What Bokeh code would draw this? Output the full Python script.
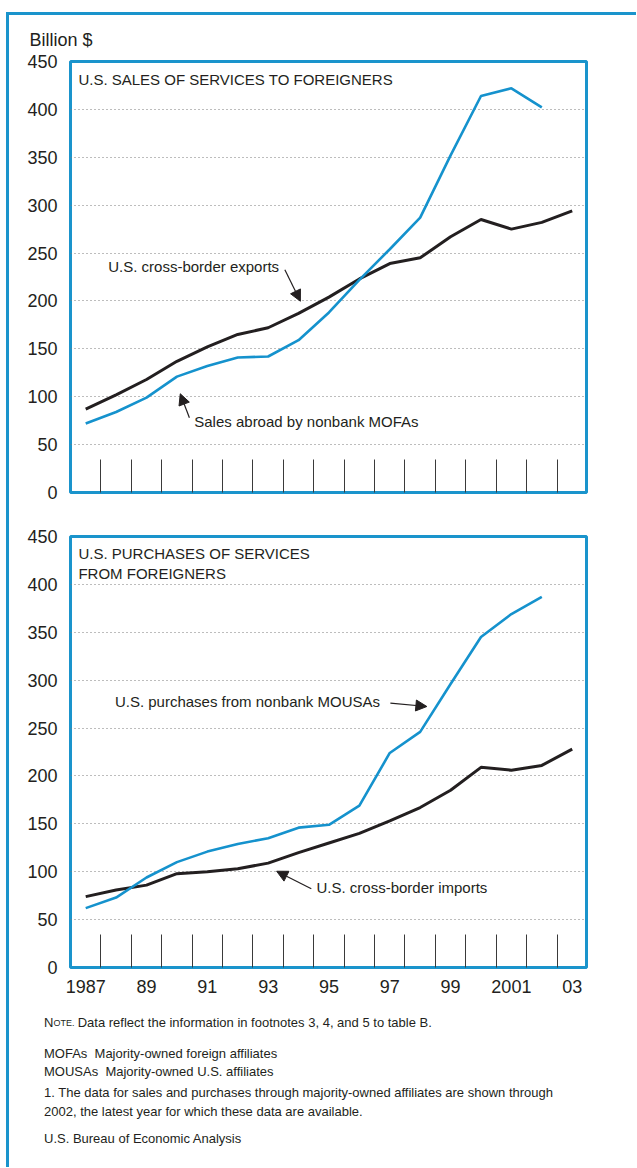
from bokeh.plotting import figure
from bokeh.models import Range1d, FixedTicker, Label, Arrow, NormalHead, ColumnDataSource
from bokeh.core.properties import value
from bokeh.layouts import column
from bokeh.embed import file_html
from bokeh.resources import INLINE

# ---------------- data (billions of dollars) ----------------
YEARS = list(range(1987, 2004))
MOFA_YEARS = list(range(1987, 2003))
EXPORTS = [87, 102, 118, 137, 152, 165, 172, 187, 204, 223, 239, 245, 267, 285, 275, 282, 294]
MOFA_SALES = [72, 84, 99, 121, 132, 141, 142, 159, 188, 222, 254, 287, 352, 414, 422, 402]
IMPORTS = [74, 81, 86, 98, 100, 103, 109, 120, 130, 140, 153, 167, 185, 209, 206, 211, 228]
MOUSA_PURCHASES = [62, 73, 94, 110, 121, 129, 135, 146, 149, 169, 224, 246, 296, 345, 369, 387]

Y_TICKS = [0, 50, 100, 150, 200, 250, 300, 350, 400, 450]
GRID_TICKS = [50, 100, 150, 200, 250, 300, 350, 400]
X_LABEL_YEARS = [1987, 1989, 1991, 1993, 1995, 1997, 1999, 2001, 2003]
X_LABELS = ["1987", "89", "91", "93", "95", "97", "99", "2001", "03"]
TICK_MARKS = [y + 0.5 for y in YEARS[:-1]]

TOP_TITLE = "U.S. SALES OF SERVICES TO FOREIGNERS"
BOTTOM_TITLE = ["U.S. PURCHASES OF SERVICES", "FROM FOREIGNERS"]
NOTE_TEXT = "Data reflect the information in footnotes 3, 4, and 5 to table B."
FOOTNOTES = [
    "MOFAs\u00a0 Majority-owned foreign affiliates",
    "MOUSAs\u00a0 Majority-owned U.S. affiliates",
    "1. The data for sales and purchases through majority-owned affiliates are shown through",
    "2002, the latest year for which these data are available.",
    "U.S. Bureau of Economic Analysis",
]

BLUE = "#1592cd"
FRAME_BLUE = "#1a94cc"
INK = "#231f20"
FONT = "Liberation Sans"
W = 627


def make_panel(height, top, bottom, major_x):
    p = figure(width=W, height=height,
               x_range=Range1d(1986.5, 2003.47), y_range=Range1d(0, 450),
               output_backend="svg", toolbar_location=None,
               min_border_left=61, min_border_right=W - 61 - 516,
               min_border_top=top, min_border_bottom=bottom)
    p.background_fill_color = "white"
    p.border_fill_color = "white"
    p.outline_line_color = FRAME_BLUE
    p.outline_line_width = 3

    ya = p.yaxis[0]
    ya.ticker = FixedTicker(ticks=Y_TICKS)
    ya.major_tick_in = 0
    ya.major_tick_out = 0
    ya.minor_tick_line_color = None
    ya.axis_line_color = None
    ya.major_label_standoff = 13
    ya.major_label_text_font = FONT
    ya.major_label_text_font_size = "18px"
    ya.major_label_text_color = INK

    xa = p.xaxis[0]
    xa.ticker = FixedTicker(ticks=major_x, minor_ticks=TICK_MARKS)
    xa.major_tick_in = 0
    xa.major_tick_out = 0
    xa.minor_tick_in = 33
    xa.minor_tick_out = 0
    xa.minor_tick_line_color = "#3a3a3a"
    xa.minor_tick_line_width = 1
    xa.axis_line_color = None
    xa.major_label_standoff = 12
    xa.major_label_text_font = FONT
    xa.major_label_text_font_size = "18px"
    xa.major_label_text_color = INK
    if major_x:
        xa.major_label_overrides = {k: v for k, v in zip(X_LABEL_YEARS, X_LABELS)}

    p.xgrid.visible = False
    p.ygrid.ticker = FixedTicker(ticks=GRID_TICKS)
    p.ygrid.grid_line_color = "#7a7a7a"
    p.ygrid.grid_line_dash = "1 3"
    p.ygrid.grid_line_width = 1
    return p


def label(p, x, y, text, size="15px"):
    p.add_layout(Label(x=x, y=y, text=text, text_font=FONT, text_font_size=size,
                       text_color=INK, text_align="left", text_baseline="middle"))


def arrow(p, x0, y0, x1, y1):
    p.add_layout(Arrow(end=NormalHead(size=11, fill_color=INK, line_color=INK, line_width=1),
                       x_start=x0, y_start=y0, x_end=x1, y_end=y1,
                       line_color=INK, line_width=1.2))


# ---------------- top panel ----------------
p1 = make_panel(497, 46, 20, [])
p1.title.text = "Billion $"
p1.title.text_font = FONT
p1.title.text_font_size = "18px"
p1.title.text_font_style = "normal"
p1.title.text_color = INK
p1.title.align = "left"
p1.title.offset = -41
p1.title.standoff = 24
p1.line(YEARS, EXPORTS, line_color=INK, line_width=3)
p1.line(MOFA_YEARS, MOFA_SALES, line_color=BLUE, line_width=2.6)
label(p1, 1986.76, 431, TOP_TITLE)
label(p1, 1987.74, 236, "U.S. cross-border exports")
arrow(p1, 1993.55, 232.5, 1994.06, 199.7)
label(p1, 1990.57, 74.4, "Sales abroad by nonbank MOFAs")
arrow(p1, 1990.41, 78.0, 1990.11, 103.1)

# ---------------- bottom panel ----------------
p2 = make_panel(490, 24, 35, X_LABEL_YEARS)
p2.line(YEARS, IMPORTS, line_color=INK, line_width=3)
p2.line(MOFA_YEARS, MOUSA_PURCHASES, line_color=BLUE, line_width=2.6)
label(p2, 1986.76, 432.6, BOTTOM_TITLE[0])
label(p2, 1986.76, 411.1, BOTTOM_TITLE[1])
label(p2, 1987.96, 277.7, "U.S. purchases from nonbank MOUSAs")
arrow(p2, 1997.02, 276.0, 1998.22, 272.5)
label(p2, 1994.59, 83.2, "U.S. cross-border imports")
arrow(p2, 1994.42, 82.2, 1993.28, 100.5)

# ---------------- notes panel (pixel-like layout space) ----------------
H3 = 165
p3 = figure(width=W, height=H3, x_range=Range1d(0, W), y_range=Range1d(H3, 0),
            output_backend="svg", toolbar_location=None,
            min_border=0, min_border_left=0, min_border_right=0,
            min_border_top=0, min_border_bottom=0,
            x_axis_location=None, y_axis_location=None)
p3.frame_align = False
p3.outline_line_color = None
p3.grid.visible = False
p3.background_fill_color = "white"
p3.border_fill_color = "white"

note_src = ColumnDataSource(dict(
    x=[34.5, 43.9, 68.2],
    y=[20, 20, 20],
    t=["N", "OTE.", NOTE_TEXT],
    s=["13px", "9px", "13px"],
))
p3.text(x="x", y="y", text="t", text_font_size="s", source=note_src,
        text_font=value(FONT), text_color=INK, text_baseline="middle", text_align="left")

foot_src = ColumnDataSource(dict(
    x=[34.5] * len(FOOTNOTES),
    y=[51, 69, 90, 109, 136],
    t=FOOTNOTES,
))
p3.text(x="x", y="y", text="t", source=foot_src, text_font=value(FONT),
        text_font_size="13px", text_color=INK, text_baseline="middle", text_align="left")

layout = column(p1, p2, p3, styles={
    "margin-left": "6px", "margin-top": "12px",
    "border-left": "3px solid " + FRAME_BLUE,
    "border-top": "3px solid " + FRAME_BLUE,
})

open("out.html", "w").write(file_html(layout, INLINE))
